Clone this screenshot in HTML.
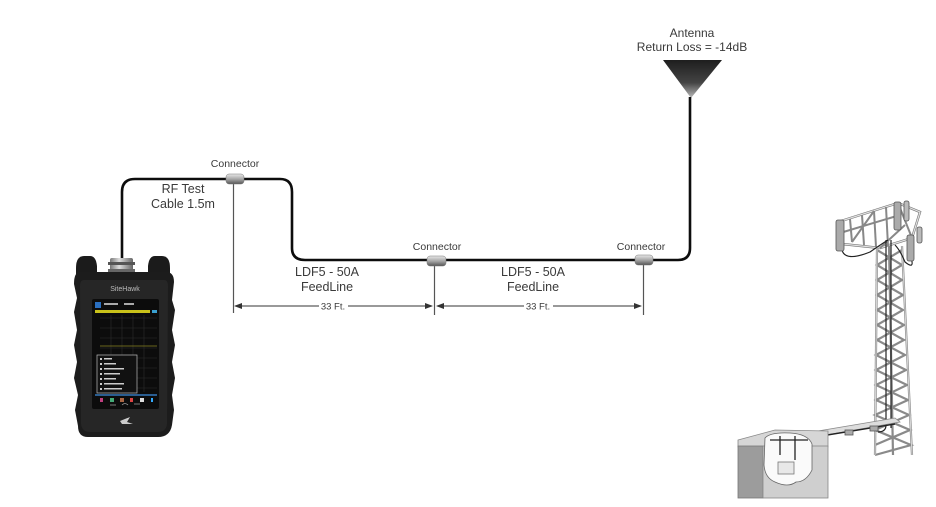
<!DOCTYPE html>
<html><head><meta charset="utf-8"><style>
html,body{margin:0;padding:0;background:#fff;}
svg{display:block;}
text{font-family:"Liberation Sans",sans-serif;fill:#3a3a3a;}
</style></head><body>
<svg width="936" height="507" viewBox="0 0 936 507" xmlns="http://www.w3.org/2000/svg">
<defs>
<linearGradient id="ant" x1="0" y1="0" x2="0" y2="1">
<stop offset="0" stop-color="#1e1e1e"/><stop offset="0.6" stop-color="#444"/><stop offset="1" stop-color="#bbb"/>
</linearGradient>
<linearGradient id="con" x1="0" y1="0" x2="0" y2="1">
<stop offset="0" stop-color="#e8e8e8"/><stop offset="0.5" stop-color="#a8a8a8"/><stop offset="1" stop-color="#555"/>
</linearGradient>
<linearGradient id="rfc" x1="0" y1="0" x2="1" y2="0">
<stop offset="0" stop-color="#777"/><stop offset="0.4" stop-color="#ddd"/><stop offset="1" stop-color="#666"/>
</linearGradient>
<marker id="ar" markerWidth="8" markerHeight="6" refX="7" refY="3" orient="auto" markerUnits="userSpaceOnUse">
<path d="M0,0 L8,3 L0,6 Z" fill="#333"/></marker>
<marker id="al" markerWidth="8" markerHeight="6" refX="1" refY="3" orient="auto" markerUnits="userSpaceOnUse">
<path d="M8,0 L0,3 L8,6 Z" fill="#333"/></marker>
</defs>

<!-- Antenna label -->
<text x="692" y="37" font-size="12" text-anchor="middle">Antenna</text>
<text x="692" y="51" font-size="12" text-anchor="middle">Return Loss = -14dB</text>
<polygon points="663,60 722,60 691,98" fill="url(#ant)"/>

<!-- cable -->
<path d="M122 260 L122 192 Q122 179 135 179 L280 179 Q292 179 292 192 L292 248 Q292 260 305 260 L678 260 Q690 260 690 248 L690 97" fill="none" stroke="#0d0d0d" stroke-width="2.6"/>

<!-- dimension verticals -->
<line x1="233.5" y1="182" x2="233.5" y2="313" stroke="#555" stroke-width="1.2"/>
<line x1="434.5" y1="266" x2="434.5" y2="315" stroke="#555" stroke-width="1.2"/>
<line x1="643.5" y1="265" x2="643.5" y2="315" stroke="#555" stroke-width="1.2"/>

<!-- connectors -->
<rect x="226" y="174" width="18" height="10" rx="3" fill="url(#con)" stroke="#777" stroke-width="0.5"/>
<rect x="427" y="256" width="19" height="10" rx="3" fill="url(#con)" stroke="#777" stroke-width="0.5"/>
<rect x="635" y="255" width="18" height="10" rx="3" fill="url(#con)" stroke="#777" stroke-width="0.5"/>

<text x="235" y="167" font-size="10.5" text-anchor="middle">Connector</text>
<text x="437" y="250" font-size="10.5" text-anchor="middle">Connector</text>
<text x="641" y="250" font-size="10.5" text-anchor="middle">Connector</text>

<text x="183" y="193" font-size="12.5" text-anchor="middle">RF Test</text>
<text x="183" y="208" font-size="12.5" text-anchor="middle">Cable 1.5m</text>

<text x="327" y="276" font-size="12.5" text-anchor="middle">LDF5 - 50A</text>
<text x="327" y="291" font-size="12.5" text-anchor="middle">FeedLine</text>
<text x="533" y="276" font-size="12.5" text-anchor="middle">LDF5 - 50A</text>
<text x="533" y="291" font-size="12.5" text-anchor="middle">FeedLine</text>

<!-- dimension arrows -->
<line x1="235" y1="306" x2="319" y2="306" stroke="#333" stroke-width="1" marker-start="url(#al)"/>
<line x1="348" y1="306" x2="432" y2="306" stroke="#333" stroke-width="1" marker-end="url(#ar)"/>
<text x="333" y="309.5" font-size="9.5" text-anchor="middle">33 Ft.</text>
<line x1="437" y1="306" x2="524" y2="306" stroke="#333" stroke-width="1" marker-start="url(#al)"/>
<line x1="553" y1="306" x2="641" y2="306" stroke="#333" stroke-width="1" marker-end="url(#ar)"/>
<text x="538" y="309.5" font-size="9.5" text-anchor="middle">33 Ft.</text>

<!-- Device -->
<g>
<rect x="110" y="258" width="23" height="18" rx="2" fill="url(#rfc)"/>
<rect x="108" y="262" width="27" height="3" fill="#555"/>
<rect x="108" y="269" width="27" height="3" fill="#666"/>
<path d="M76 268 Q76 256 84 256 L90 256 Q96 256 97 266 L97 276 L76 276 Z" fill="#1b1b1b"/>
<path d="M148 266 Q149 256 155 256 L162 256 Q170 256 170 268 L170 276 L148 276 Z" fill="#1b1b1b"/>
<path d="M80 272 L166 272 Q174 272 174 282 L172 300 L175 310 L172 330 L175 345 L172 362 L175 378 L172 395 L174 410 L172 425 Q170 437 158 437 L88 437 Q78 437 78 426 L75 410 L78 395 L74 378 L77 362 L74 345 L77 330 L74 312 L77 298 L74 284 Q74 272 80 272 Z" fill="#1c1c1c"/>
<path d="M84 280 L164 280 Q168 280 168 286 L167 424 Q166 432 158 432 L90 432 Q82 432 81 424 L80 286 Q80 280 84 280 Z" fill="#262626"/>
<text x="125" y="291" font-size="7" text-anchor="middle" style="fill:#bbb">SiteHawk</text>
<rect x="92" y="299" width="67" height="110" rx="2" fill="#0c0c0c"/>
<rect x="95" y="302" width="6" height="6" fill="#2a6fc0"/>
<rect x="104" y="303" width="14" height="2" fill="#aaa"/>
<rect x="124" y="303" width="10" height="2" fill="#aaa"/>
<rect x="95" y="310" width="55" height="3" fill="#c9c21a"/>
<rect x="152" y="310" width="5" height="3" fill="#3aa0d0"/>
<g stroke="#2d2d2d" stroke-width="0.6">
<line x1="100" y1="318" x2="157" y2="318"/><line x1="100" y1="328" x2="157" y2="328"/>
<line x1="100" y1="338" x2="157" y2="338"/><line x1="100" y1="348" x2="157" y2="348"/>
<line x1="100" y1="358" x2="157" y2="358"/><line x1="100" y1="368" x2="157" y2="368"/>
<line x1="100" y1="378" x2="157" y2="378"/><line x1="100" y1="388" x2="157" y2="388"/>
<line x1="111" y1="315" x2="111" y2="392"/><line x1="122" y1="315" x2="122" y2="392"/>
<line x1="133" y1="315" x2="133" y2="392"/><line x1="144" y1="315" x2="144" y2="392"/>
</g>
<line x1="100" y1="346" x2="157" y2="346" stroke="#8a8420" stroke-width="0.8"/>
<rect x="97" y="355" width="40" height="38" fill="#111" stroke="#bbb" stroke-width="0.7"/>
<g fill="#ccc">
<rect x="100" y="358" width="2" height="2"/><rect x="104" y="358" width="8" height="1.5"/>
<rect x="100" y="363" width="2" height="2"/><rect x="104" y="363" width="12" height="1.5"/>
<rect x="100" y="368" width="2" height="2"/><rect x="104" y="368" width="20" height="1.5"/>
<rect x="100" y="373" width="2" height="2"/><rect x="104" y="373" width="16" height="1.5"/>
<rect x="100" y="378" width="2" height="2"/><rect x="104" y="378" width="12" height="1.5"/>
<rect x="100" y="383" width="2" height="2"/><rect x="104" y="383" width="20" height="1.5"/>
<rect x="100" y="388" width="2" height="2"/><rect x="104" y="388" width="18" height="1.5"/>
</g>
<rect x="95" y="394" width="62" height="2" fill="#2a5d90"/>
<rect x="100" y="398" width="3" height="4" fill="#c04080"/>
<rect x="110" y="398" width="4" height="4" fill="#4a7"/>
<rect x="120" y="398" width="4" height="4" fill="#a64"/>
<rect x="130" y="398" width="3" height="4" fill="#d44"/>
<rect x="140" y="398" width="4" height="4" fill="#ddd"/>
<rect x="151" y="398" width="2" height="4" fill="#3af"/>
<path d="M110 405 L116 405 M122 405 Q125 402 128 405 M134 404 L140 404" stroke="#999" stroke-width="0.8" fill="none"/>
<path d="M120 421 L130 417 L127 422 L133 424 L122 424 Z" fill="#ccc"/>
</g>

<!-- Tower -->
<g stroke="#666" stroke-width="0.8" fill="#e6e6e6">
<!-- top frame -->
<polygon points="838,222 898,203 920,212 912,238 880,248 842,244" fill="none" stroke="#777" stroke-width="2.4"/>
<polygon points="838,222 898,203 920,212 912,238 880,248 842,244" fill="none" stroke="#e2e2e2" stroke-width="1.2"/>
<g stroke="#888" stroke-width="2" fill="none">
<line x1="850" y1="219" x2="852" y2="242"/><line x1="862" y1="215" x2="864" y2="245"/>
<line x1="874" y1="211" x2="876" y2="247"/><line x1="886" y1="207" x2="888" y2="246"/>
<line x1="840" y1="233" x2="900" y2="215"/><line x1="880" y1="248" x2="905" y2="225"/>
<line x1="898" y1="203" x2="912" y2="238"/><line x1="852" y1="242" x2="874" y2="211"/>
</g>
<!-- mast -->
<g stroke="#8a8a8a" stroke-width="2.2" fill="none">
<line x1="877" y1="248" x2="875" y2="455"/><line x1="902" y1="246" x2="912" y2="455"/>
<line x1="889" y1="246" x2="893" y2="455"/>
<path d="M877 250 L902 265 L877 280 L903 295 L877 310 L904 325 L877 340 L905 355 L876 370 L907 385 L876 400 L909 415 L875 430 L911 445 L875 455"/>
<path d="M902 250 L877 265 L902 280 L877 295 L903 310 L877 325 L904 340 L876 355 L906 370 L876 385 L908 400 L875 415 L910 430 L875 445"/>
</g>
<g stroke="#ddd" stroke-width="0.9" fill="none">
<line x1="877" y1="248" x2="875" y2="455"/><line x1="902" y1="246" x2="912" y2="455"/>
</g>
<!-- cables in mast -->
<path d="M886 240 L886 425 Q886 432 878 432 M891 240 L891 428 M842 250 Q845 262 870 252 Q880 245 888 240 M911 258 Q915 270 905 262 Q900 250 895 245" stroke="#222" stroke-width="1.2" fill="none"/>
<!-- antennas -->
<rect x="836" y="220" width="8" height="31" rx="2" fill="#aaa" stroke="#555"/>
<rect x="894" y="202" width="7" height="28" rx="2" fill="#aaa" stroke="#555"/>
<rect x="904" y="201" width="5" height="20" rx="2" fill="#bbb" stroke="#555"/>
<rect x="907" y="235" width="7" height="26" rx="2" fill="#aaa" stroke="#555"/>
<rect x="917" y="227" width="5" height="16" rx="2" fill="#bbb" stroke="#555"/>
<!-- tray -->
<polygon points="812,432 895,418 900,422 815,437" fill="#ddd" stroke="#888"/>
<line x1="815" y1="437" x2="895" y2="424" stroke="#222" stroke-width="1.4"/>
<rect x="845" y="430" width="8" height="5" fill="#aaa" stroke="#555"/>
<rect x="870" y="426" width="8" height="5" fill="#aaa" stroke="#555"/>
<!-- shelter -->
<polygon points="738,440 775,430 828,431 828,447 738,447" fill="#d6d6d6" stroke="#888"/>
<rect x="738" y="446" width="25" height="52" fill="#9c9c9c" stroke="#777"/>
<rect x="763" y="446" width="65" height="52" fill="#cfcfcf" stroke="#888"/>
<path d="M765 438 Q770 432 790 433 Q808 434 812 444 L812 470 Q806 482 796 482 Q788 488 775 482 Q765 478 764 465 Z" fill="#fafafa" stroke="#666"/>
<path d="M770 440 L808 440 M780 436 L780 455 M795 436 L795 460" stroke="#222" stroke-width="1.3" fill="none"/>
<rect x="778" y="462" width="16" height="12" fill="#e8e8e8" stroke="#777"/>
</g>
</svg>
</body></html>
